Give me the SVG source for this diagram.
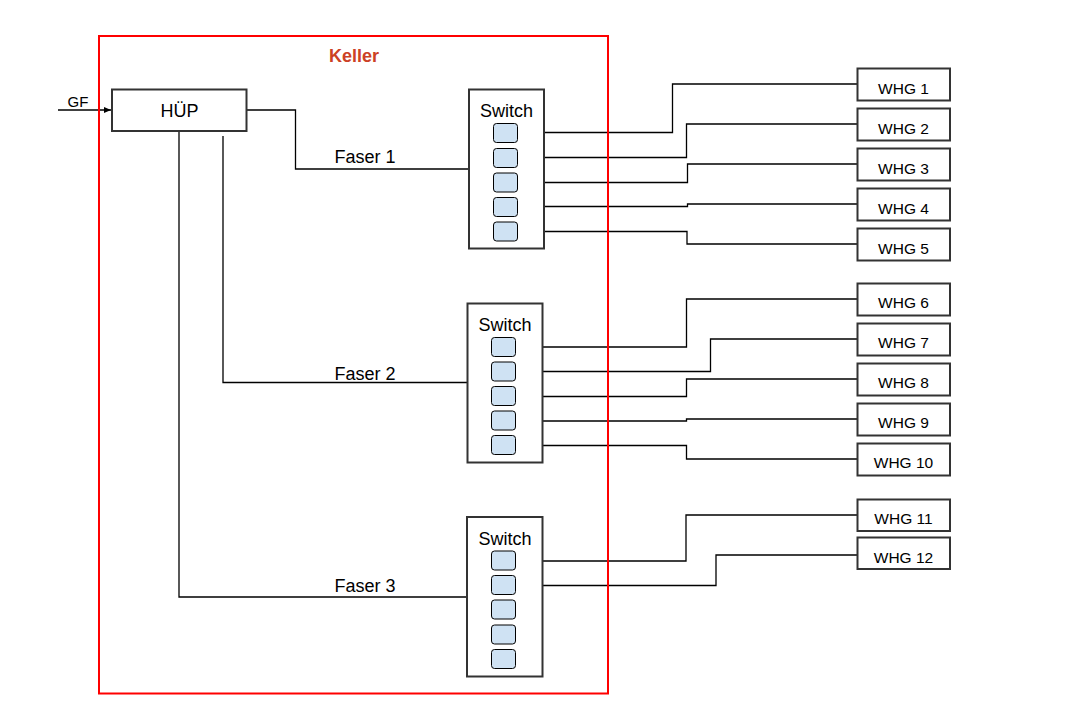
<svg xmlns="http://www.w3.org/2000/svg" width="1069" height="716" viewBox="0 0 1069 716">
<style>
text{font-family:"Liberation Sans",Arial,sans-serif;fill:#000;text-anchor:middle}
.box{fill:#fff;stroke:#333;stroke-width:2}
.port{fill:#cfe2f3;stroke:#000;stroke-width:1}
.w{font-size:15.5px}
.l{font-size:18px}
.c{fill:none;stroke:#000;stroke-width:1.3}
</style>
<defs>
<marker id="ah" markerWidth="8" markerHeight="8" refX="7" refY="4" orient="auto" markerUnits="userSpaceOnUse">
<path d="M0,1 L7,4 L0,7 z" fill="#000"/>
</marker>
</defs>
<rect width="1069" height="716" fill="#fff"/>
<g id="connectors">
<path class="c" d="M58,110 H111" marker-end="url(#ah)"/>
<path class="c" d="M247,110 H295.5 V169 H469"/>
<path class="c" d="M223,136 V382.5 H467"/>
<path class="c" d="M179,131 V597 H467"/>
<path class="c" d="M517,132.5 H672.5 V84 H857"/>
<path class="c" d="M517,157.5 H686.5 V124 H857"/>
<path class="c" d="M517,182.5 H687.5 V164 H857"/>
<path class="c" d="M517,206.5 H687.5 V204 H857"/>
<path class="c" d="M517,231.5 H687 V244 H857"/>
<path class="c" d="M515,347 H686.5 V299 H857"/>
<path class="c" d="M515,371.5 H710.5 V339 H857"/>
<path class="c" d="M515,396.5 H686.5 V379 H857"/>
<path class="c" d="M515,421 H686.5 V419 H857"/>
<path class="c" d="M515,445.5 H686.5 V459 H857"/>
<path class="c" d="M515,561 H686 V515 H857"/>
<path class="c" d="M515,585.5 H716 V555 H857"/>
</g>
<g id="keller">
<rect x="99" y="36" width="509" height="657.5" fill="none" stroke="#ff0000" stroke-width="2"/>
<text x="354" y="62" style="font-size:18px;font-weight:bold;fill:#cc4125">Keller</text>
</g>
<text x="78" y="107" style="font-size:15px">GF</text>
<text x="365" y="163" class="l">Faser 1</text>
<text x="365" y="380" class="l">Faser 2</text>
<text x="365" y="592" class="l">Faser 3</text>
<g id="huep">
<rect class="box" x="112" y="89.5" width="134.5" height="41.5"/>
<text x="179.5" y="117" class="l">HÜP</text>
</g>
<g id="switch1">
<rect class="box" x="469" y="89.5" width="75" height="159"/>
<text x="506.5" y="116.5" class="l">Switch</text>
<rect class="port" x="493.5" y="123.5" width="24" height="19" rx="3"/>
<rect class="port" x="493.5" y="148.5" width="24" height="19" rx="3"/>
<rect class="port" x="493.5" y="173" width="24" height="19" rx="3"/>
<rect class="port" x="493.5" y="197.5" width="24" height="19" rx="3"/>
<rect class="port" x="493.5" y="222" width="24" height="19" rx="3"/>
</g>
<g id="switch2">
<rect class="box" x="467.5" y="303.5" width="75" height="159"/>
<text x="505" y="331" class="l">Switch</text>
<rect class="port" x="491.5" y="337.5" width="24" height="19" rx="3"/>
<rect class="port" x="491.5" y="362" width="24" height="19" rx="3"/>
<rect class="port" x="491.5" y="386.5" width="24" height="19" rx="3"/>
<rect class="port" x="491.5" y="411" width="24" height="19" rx="3"/>
<rect class="port" x="491.5" y="435.5" width="24" height="19" rx="3"/>
</g>
<g id="switch3">
<rect class="box" x="467" y="517" width="75.5" height="159.5"/>
<text x="505" y="545" class="l">Switch</text>
<rect class="port" x="491.5" y="551" width="24" height="19" rx="3"/>
<rect class="port" x="491.5" y="575.5" width="24" height="19" rx="3"/>
<rect class="port" x="491.5" y="600" width="24" height="19" rx="3"/>
<rect class="port" x="491.5" y="625" width="24" height="19" rx="3"/>
<rect class="port" x="491.5" y="649.5" width="24" height="19" rx="3"/>
</g>
<g id="whg1"><rect class="box" x="857.5" y="68.5" width="92.5" height="32"/><text x="903.5" y="93.5" class="w">WHG 1</text></g>
<g id="whg2"><rect class="box" x="857.5" y="108.5" width="92.5" height="32"/><text x="903.5" y="133.5" class="w">WHG 2</text></g>
<g id="whg3"><rect class="box" x="857.5" y="148.5" width="92.5" height="32"/><text x="903.5" y="173.5" class="w">WHG 3</text></g>
<g id="whg4"><rect class="box" x="857.5" y="188.5" width="92.5" height="32"/><text x="903.5" y="213.5" class="w">WHG 4</text></g>
<g id="whg5"><rect class="box" x="857.5" y="228.5" width="92.5" height="32"/><text x="903.5" y="253.5" class="w">WHG 5</text></g>
<g id="whg6"><rect class="box" x="857.5" y="283.5" width="92.5" height="32"/><text x="903.5" y="308" class="w">WHG 6</text></g>
<g id="whg7"><rect class="box" x="857.5" y="323.5" width="92.5" height="32"/><text x="903.5" y="348" class="w">WHG 7</text></g>
<g id="whg8"><rect class="box" x="857.5" y="363.5" width="92.5" height="32"/><text x="903.5" y="388" class="w">WHG 8</text></g>
<g id="whg9"><rect class="box" x="857.5" y="403.5" width="92.5" height="32"/><text x="903.5" y="428" class="w">WHG 9</text></g>
<g id="whg10"><rect class="box" x="857.5" y="443.5" width="92.5" height="32"/><text x="903.5" y="467.5" class="w">WHG 10</text></g>
<g id="whg11"><rect class="box" x="857.5" y="499.5" width="92.5" height="31.5"/><text x="903.5" y="523.5" class="w">WHG 11</text></g>
<g id="whg12"><rect class="box" x="857.5" y="537.5" width="92.5" height="31.5"/><text x="903.5" y="562.5" class="w">WHG 12</text></g>
</svg>
